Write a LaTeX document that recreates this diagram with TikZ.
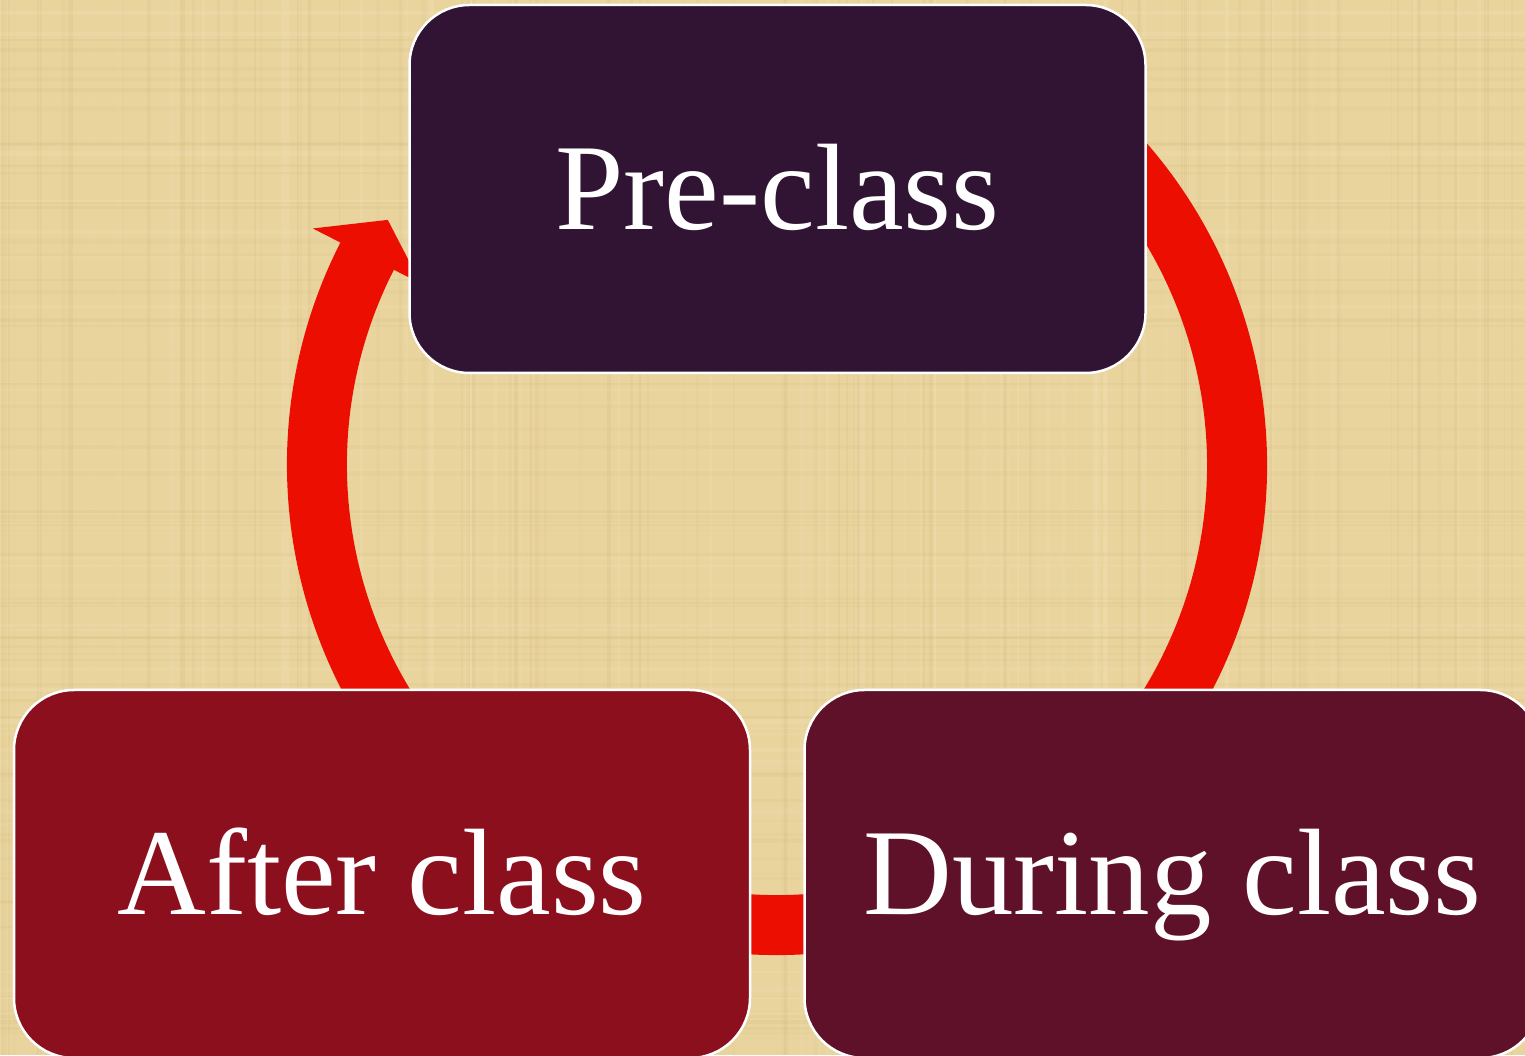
\documentclass[tikz,border=0pt]{standalone}
\usepackage{fontspec}
\setmainfont{Liberation Serif}
\usetikzlibrary{calc}
\definecolor{paper}{RGB}{233,212,158}
\definecolor{paperdark}{RGB}{208,180,118}
\definecolor{paperlight}{RGB}{246,232,192}
\definecolor{cyclered}{RGB}{236,14,0}
\definecolor{preclr}{RGB}{49,20,52}
\definecolor{afterclr}{RGB}{139,15,28}
\definecolor{duringclr}{RGB}{94,17,41}
\tikzset{
  phase/.style={draw=white, line width=2.5pt, rounded corners=60pt,
    minimum width=736pt, minimum height=368pt, inner sep=0pt,
    text=white, font=\fontsize{123}{140}\selectfont,
    text height=81pt, text depth=0pt},
}
\begin{document}
\begin{tikzpicture}[x=1pt,y=1pt]
\useasboundingbox (0,0) rectangle (1525,1055);
\clip (0,0) rectangle (1525,1055);
% parchment background
\fill[paper] (0,0) rectangle (1525,1055);
\pgfmathsetseed{11}
\foreach \i in {1,...,160}{
  \pgfmathsetmacro{\xx}{rnd*1525}
  \pgfmathsetmacro{\ww}{1+rnd*4}
  \pgfmathsetmacro{\oo}{0.06+rnd*0.15}
  \pgfmathsetmacro{\cc}{rnd}
  \ifdim\cc pt<0.5pt
    \fill[paperdark,opacity=\oo] (\xx,0) rectangle ++(\ww,1055);
  \else
    \fill[paperlight,opacity=\oo] (\xx,0) rectangle ++(\ww,1055);
  \fi
}
\foreach \i in {1,...,120}{
  \pgfmathsetmacro{\yy}{rnd*1055}
  \pgfmathsetmacro{\ww}{1+rnd*4}
  \pgfmathsetmacro{\oo}{0.05+rnd*0.12}
  \pgfmathsetmacro{\cc}{rnd}
  \ifdim\cc pt<0.5pt
    \fill[paperdark,opacity=\oo] (0,\yy) rectangle ++(1525,\ww);
  \else
    \fill[paperlight,opacity=\oo] (0,\yy) rectangle ++(1525,\ww);
  \fi
}
% cycle arrow
\coordinate (hub) at (777,590);
\fill[cyclered] (hub) ++(60:490pt) arc[start angle=60, end angle=-207, radius=490pt]
  -- ($(hub)+(-207:521pt)$) -- ($(hub)+(-212.2:460pt)$) -- ($(hub)+(-207:400pt)$)
  -- ($(hub)+(-207:430pt)$) arc[start angle=-207, end angle=60, radius=430pt] -- cycle;
% phases
\node[phase, fill=preclr] (pre) at (777.5,866) {Pre-class};
\node[phase, fill=afterclr] (after) at (382,181) {After class};
\node[phase, fill=duringclr] (during) at (1172.5,181) {During class};
\end{tikzpicture}
\end{document}
